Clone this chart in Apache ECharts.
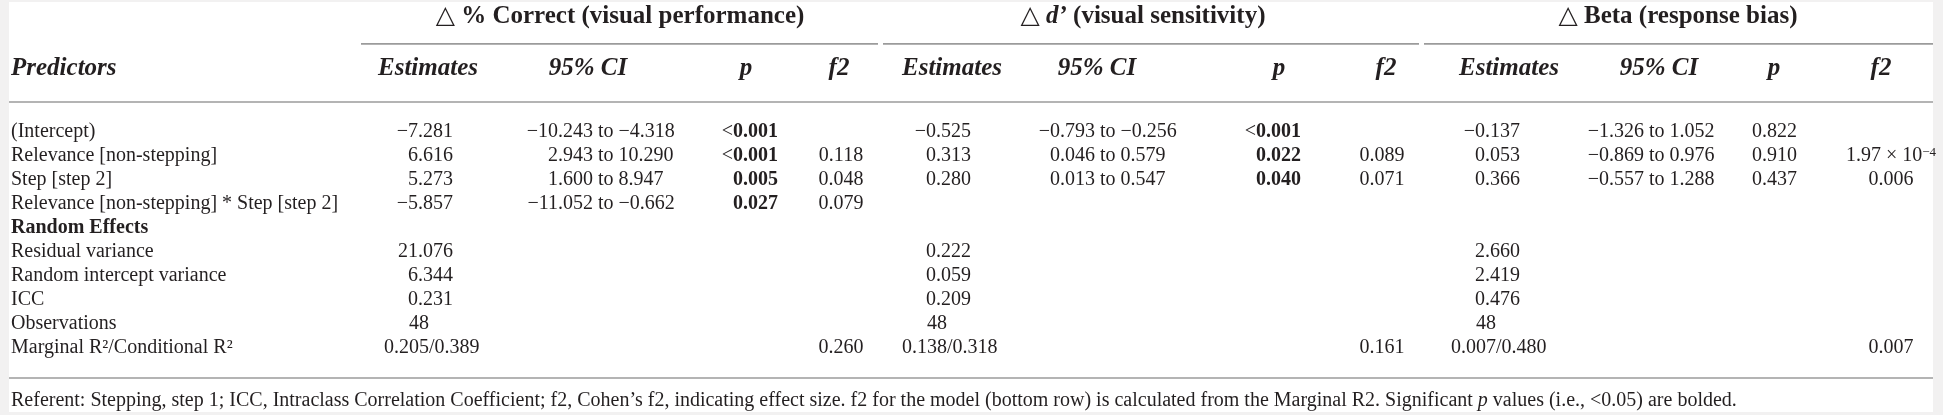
<!DOCTYPE html>
<html>
<head>
<meta charset="utf-8">
<title>Linear mixed model table</title>
<script src="https://cdn.jsdelivr.net/npm/echarts@6/dist/echarts.min.js"></script>
<style>
  html, body { margin: 0; padding: 0; background: #f2f1f1; }
  #table { position: absolute; left: 0; top: 0; width: 1943px; height: 415px; }
</style>
</head>
<body>
<div id="table"></div>
<script>
// ---- table content ----
var groupTitles = ['△ % Correct (visual performance)', '△ {bi|d’} (visual sensitivity)', '△ Beta (response bias)'];
var colHeaders = ['Estimates', '95% CI', 'p', 'f2'];
var predictors = ['(Intercept)', 'Relevance [non-stepping]', 'Step [step 2]',
  'Relevance [non-stepping] * Step [step 2]', 'Random Effects', 'Residual variance',
  'Random intercept variance', 'ICC', 'Observations', 'Marginal R²/Conditional R²'];

// % correct
var correctEst = [-7.281, 6.616, 5.273, -5.857];
var correctCI = [[-10.243, -4.318], [2.943, 10.290], [1.600, 8.947], [-11.052, -0.662]];
var correctP = ['<0.001', '<0.001', '0.005', '0.027'];
var correctF2 = [null, 0.118, 0.048, 0.079];
var correctRandom = [21.076, 6.344, 0.231, 48];
var correctR2 = [0.205, 0.389];
var correctModelF2 = 0.260;

// d'
var sensEst = [-0.525, 0.313, 0.280];
var sensCI = [[-0.793, -0.256], [0.046, 0.579], [0.013, 0.547]];
var sensP = ['<0.001', '0.022', '0.040'];
var sensF2 = [null, 0.089, 0.071];
var sensRandom = [0.222, 0.059, 0.209, 48];
var sensR2 = [0.138, 0.318];
var sensModelF2 = 0.161;

// beta
var biasEst = [-0.137, 0.053, 0.366];
var biasCI = [[-1.326, 1.052], [-0.869, 0.976], [-0.557, 1.288]];
var biasP = ['0.822', '0.910', '0.437'];
var biasF2 = [null, 1.97e-4, 0.006];
var biasRandom = [2.660, 2.419, 0.476, 48];
var biasR2 = [0.007, 0.480];
var biasModelF2 = 0.007;

var footnote = 'Referent: Stepping, step 1; ICC, Intraclass Correlation Coefficient; f2, Cohen’s f2, indicating effect size. ' +
  'f2 for the model (bottom row) is calculated from the Marginal R2. Significant {i|p} values (i.e., <0.05) are bolded.';

// ---- layout (page px for x, row units for y) ----
var serif = '"Liberation Serif", "DejaVu Serif", serif';
var ink = '#231f20';
var bodySize = 20, headSize = 25, groupSize = 25;
var labelX = 11;
var groupX = [620, 1143, 1678];
var headX = [[428, 588, 746, 839], [952, 1097, 1279, 1386], [1509, 1659, 1774, 1881]];
var anchorX = [[418, 558, 743, 841], [936, 1060, 1266, 1382], [1485, 1609, 1762, 1891]];
var nudge = 11;
var yGroup = -4.83, yHead = -2.625, yFoot = 11.21;
var rules = [[361, 878, -3.67], [883, 1419, -3.67], [1424, 1933, -3.67], [9, 1933, -1.25], [9, 1933, 10.25]];

function st(size, weight, style) {
  return { fontSize: size, fontFamily: serif, fontWeight: weight || 'normal', fontStyle: style || 'normal', fill: ink };
}
var rich = {
  n: st(bodySize), b: st(bodySize, 'bold'), i: st(bodySize, 'normal', 'italic'),
  bi: st(groupSize, 'bold', 'italic'),
  sup: Object.assign(st(13), { verticalAlign: 'top', lineHeight: 13 })
};

function fmt(v) {
  if (Number.isInteger(v)) return String(v);
  return (v < 0 ? '−' : '') + Math.abs(v).toFixed(3);
}
function fmtF2(v) {
  if (v >= 0.001) return fmt(v);
  var e = Math.floor(Math.log10(v));
  var m = (v / Math.pow(10, e)).toFixed(2);
  return '{n|' + m + ' × 10}{sup|' + String(e).replace('-', '−') + '}';
}

var cells = [];
function cell(x, y, text, align, base) {
  cells.push({ x: x, y: y, text: text, align: align, base: base || 'n' });
}
// decimal aligned cell: split at '/' or first '.'
function dcell(x, y, text, bold) {
  var left, right, ax = x;
  var k = text.indexOf('/');
  if (k >= 0) { left = text.slice(0, k); right = text.slice(k); ax = x + nudge; }
  else if ((k = text.indexOf('.')) >= 0) { left = text.slice(0, k); right = text.slice(k); }
  else { left = text; right = ''; ax = x + nudge; }
  if (bold) {
    left = left.charAt(0) === '<' ? '<{b|' + left.slice(1) + '}' : '{b|' + left + '}';
    right = right ? '{b|' + right + '}' : '';
  }
  cell(ax, y, left, 'right');
  if (right) cell(ax, y, right, 'left');
}

var groups = [
  { est: correctEst, ci: correctCI, p: correctP, f2: correctF2, rnd: correctRandom, r2: correctR2, mf2: correctModelF2 },
  { est: sensEst, ci: sensCI, p: sensP, f2: sensF2, rnd: sensRandom, r2: sensR2, mf2: sensModelF2 },
  { est: biasEst, ci: biasCI, p: biasP, f2: biasF2, rnd: biasRandom, r2: biasR2, mf2: biasModelF2 }
];

cell(labelX, yHead, 'Predictors', 'left', 'head');
predictors.forEach(function (t, i) { cell(labelX, i, t, 'left', i === 4 ? 'b' : 'n'); });

groups.forEach(function (g, gi) {
  var a = anchorX[gi];
  cell(groupX[gi], yGroup, groupTitles[gi], 'center', 'group');
  colHeaders.forEach(function (h, hi) { cell(headX[gi][hi], yHead, h, 'center', 'head'); });
  g.est.forEach(function (v, r) { dcell(a[0], r, fmt(v)); });
  g.ci.forEach(function (v, r) { dcell(a[1], r, fmt(v[0]) + ' to ' + fmt(v[1])); });
  g.p.forEach(function (v, r) { dcell(a[2], r, v, parseFloat(v.replace('<', '')) < 0.05); });
  g.f2.forEach(function (v, r) { if (v !== null) cell(a[3], r, fmtF2(v), 'center'); });
  g.rnd.forEach(function (v, r) { dcell(a[0], r + 5, fmt(v)); });
  dcell(a[0], 9, fmt(g.r2[0]) + '/' + fmt(g.r2[1]));
  cell(a[3], 9, fmtF2(g.mf2), 'center');
});
cell(labelX, yFoot, footnote, 'left');

var baseStyles = {
  n: st(bodySize), b: st(bodySize, 'bold'),
  head: st(headSize, 'bold', 'italic'), group: st(groupSize, 'bold')
};

var chart = echarts.init(document.getElementById('table'), null, { renderer: 'canvas' });
chart.setOption({
  backgroundColor: '#f2f1f1',
  animation: false,
  grid: { left: 9, right: 10, top: 2, bottom: 3, show: true, backgroundColor: '#ffffff', borderWidth: 0 },
  xAxis: { type: 'value', min: 9, max: 1933, show: false },
  yAxis: { type: 'value', min: -130 / 24, max: 280 / 24, inverse: true, show: false },
  series: [
    {
      type: 'custom',
      silent: true,
      clip: false,
      data: rules.map(function (r) { return [r[0], r[1], r[2]]; }),
      renderItem: function (params, api) {
        var p1 = api.coord([api.value(0), api.value(2)]);
        var p2 = api.coord([api.value(1), api.value(2)]);
        return {
          type: 'line',
          shape: { x1: p1[0], y1: p1[1], x2: p2[0], y2: p2[1] },
          style: { stroke: '#9b9b9b', lineWidth: 1.6 }
        };
      }
    },
    {
      type: 'custom',
      silent: true,
      clip: false,
      data: cells.map(function (c) { return [c.x, c.y]; }),
      renderItem: function (params, api) {
        var c = cells[params.dataIndex];
        var p = api.coord([api.value(0), api.value(1)]);
        var style = Object.assign({}, baseStyles[c.base], { text: c.text, align: c.align, verticalAlign: 'middle', rich: rich });
        return { type: 'text', x: p[0], y: p[1], style: style };
      }
    }
  ]
});
</script>
</body>
</html>
